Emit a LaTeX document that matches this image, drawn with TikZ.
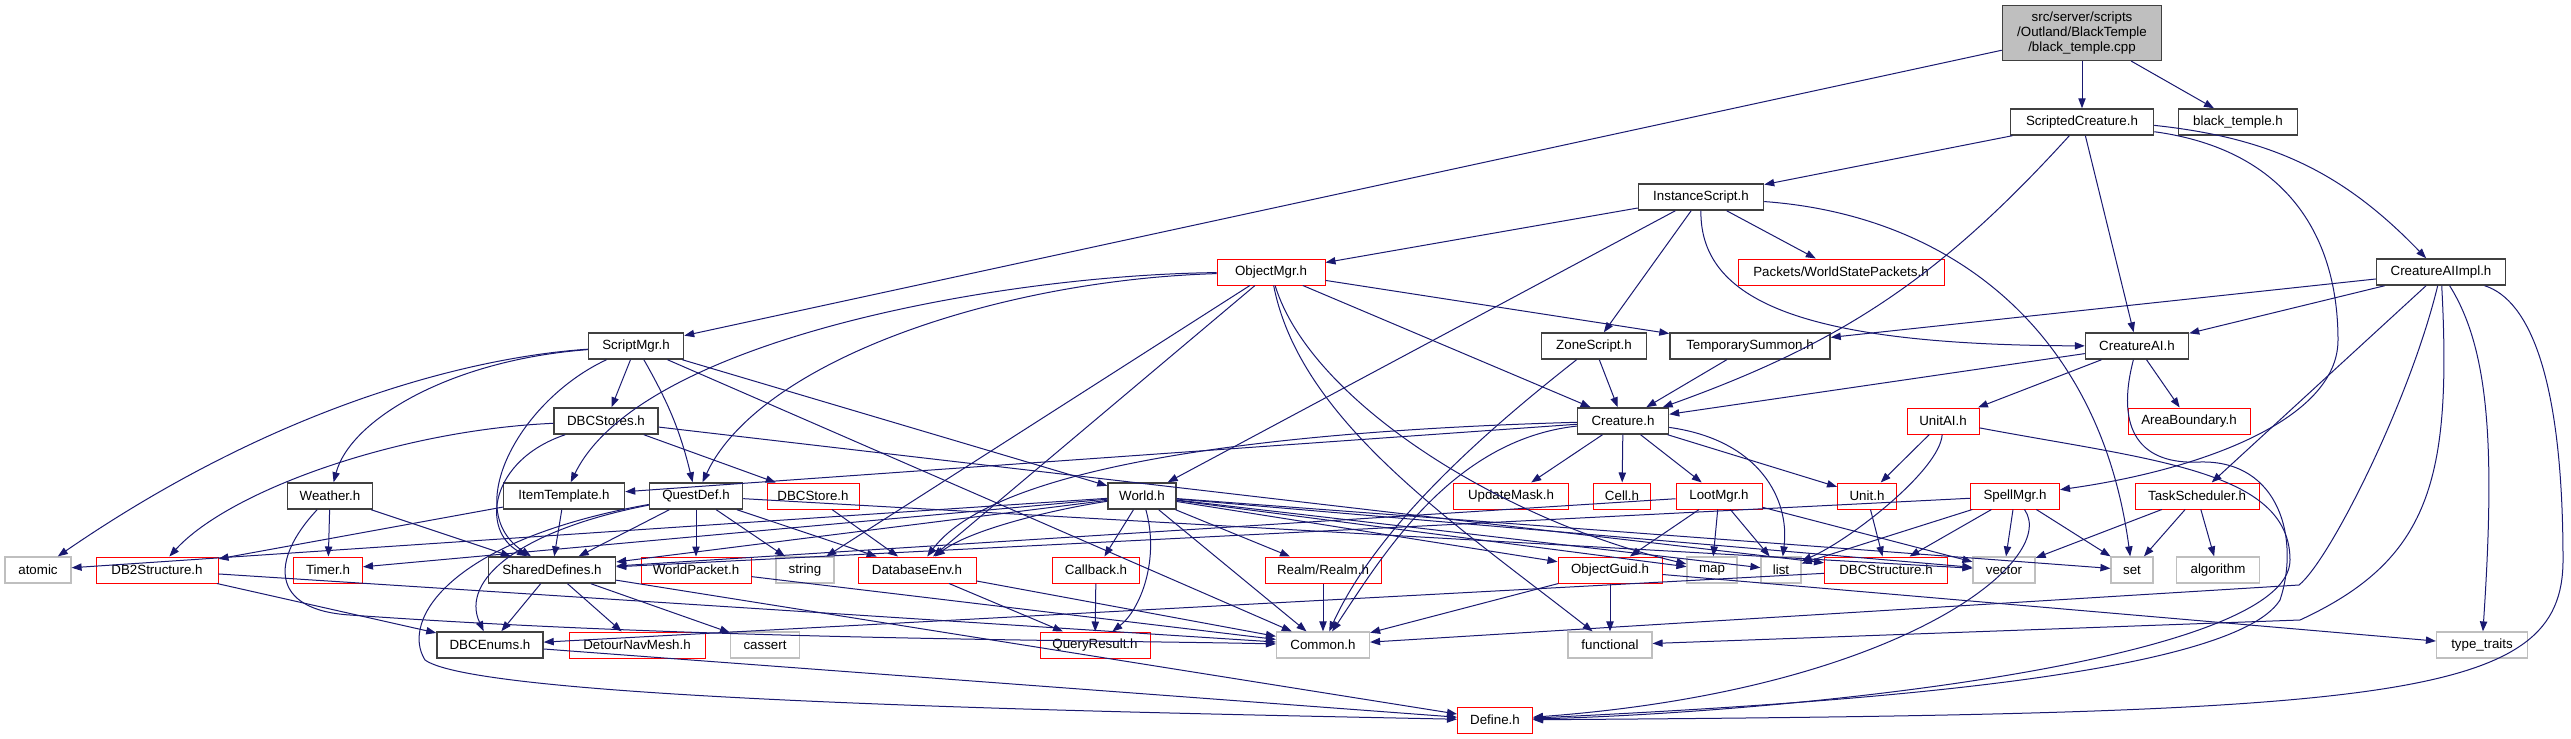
\documentclass[tikz,border=0pt]{standalone}
\usepackage{fontspec}
\setmainfont{Liberation Sans}
\usetikzlibrary{arrows.meta,positioning}
\definecolor{edgeblue}{RGB}{25,25,112}
\definecolor{boxred}{RGB}{255,0,0}
\definecolor{sysgray}{RGB}{191,191,191}
\definecolor{boxdark}{RGB}{64,64,64}

\begin{document}
\begin{tikzpicture}[
    x=0.75pt, y=-0.75pt,
    hdr/.style={draw, rectangle, fill=white, minimum height=19.5pt, inner xsep=2pt, inner ysep=0pt, font=\fontsize{10}{11.5}\selectfont},
    hdrdoc/.style={hdr, draw=boxdark, line width=1.1pt},
    hdrred/.style={hdr, draw=boxred, line width=0.75pt},
    hdrsys/.style={hdr, draw=sysgray, line width=0.9pt},
    wd/.style={minimum width=#1*0.75pt},
    incl/.style={draw=edgeblue, line width=0.75pt, -{Triangle[length=7.5pt,width=5.5pt]}},
]
\useasboundingbox (0,0) rectangle (2571,739);

% Root file
\node[hdr,fill=sysgray,draw=boxdark,line width=1.1pt,wd=159,minimum height=41pt,align=center] (cpp) at (2082,33) {src/server/scripts\\/Outland/BlackTemple\\/black\_temple.cpp};

% Direct includes
\node[hdrdoc,wd=143] (scriptedcreature) at (2082,122) {ScriptedCreature.h};
\node[hdrdoc,wd=119] (blacktempleh) at (2238,122) {black\_temple.h};
\node[hdrdoc,wd=125] (instancescript) at (1701,197) {InstanceScript.h};

\node[hdrred,wd=108] (objectmgr) at (1271,272) {ObjectMgr.h};
\node[hdrred,wd=206] (wspackets) at (1841,272) {Packets/WorldStatePackets.h};
\node[hdrdoc,wd=129] (aiimpl) at (2441,272) {CreatureAIImpl.h};

\node[hdrdoc,wd=95] (scriptmgr) at (636,346) {ScriptMgr.h};
\node[hdrdoc,wd=105] (zonescript) at (1594,346) {ZoneScript.h};
\node[hdrdoc,wd=160] (tempsummon) at (1750,346) {TemporarySummon.h};
\node[hdrdoc,wd=103] (creatureai) at (2137,346) {CreatureAI.h};

\node[hdrdoc,wd=104] (dbcstores) at (606,421) {DBCStores.h};
\node[hdrdoc,wd=91] (creature) at (1623,421) {Creature.h};
\node[hdrred,wd=72] (unitai) at (1943,421) {UnitAI.h};
\node[hdrred,wd=122] (areaboundary) at (2189,421) {AreaBoundary.h};

% Middle row
\node[hdrdoc,wd=85] (weather) at (330,496) {Weather.h};
\node[hdrdoc,wd=121] (itemtemplate) at (564,496) {ItemTemplate.h};
\node[hdrdoc,wd=93] (questdef) at (696,496) {QuestDef.h};
\node[hdrred,wd=92] (dbcstore) at (813,496) {DBCStore.h};
\node[hdrdoc,wd=68] (world) at (1142,496) {World.h};
\node[hdrred,wd=115] (updatemask) at (1511,496) {UpdateMask.h};
\node[hdrred,wd=57] (cell) at (1622,496) {Cell.h};
\node[hdrred,wd=86] (lootmgr) at (1719,496) {LootMgr.h};
\node[hdrred,wd=59] (unit) at (1867,496) {Unit.h};
\node[hdrred,wd=89] (spellmgr) at (2015,496) {SpellMgr.h};
\node[hdrred,wd=124] (taskscheduler) at (2197,496) {TaskScheduler.h};

% Lower rows
\node[hdrsys,wd=66] (atomic) at (38,570) {atomic};
\node[hdrred,wd=122] (db2structure) at (157,570) {DB2Structure.h};
\node[hdrred,wd=69] (timer) at (328,570) {Timer.h};
\node[hdrdoc,wd=127] (shareddefines) at (552,570) {SharedDefines.h};
\node[hdrred,wd=110] (worldpacket) at (696,570) {WorldPacket.h};
\node[hdrsys,wd=58] (string) at (805,570) {string};
\node[hdrred,wd=118] (databaseenv) at (917,570) {DatabaseEnv.h};
\node[hdrred,wd=87] (callback) at (1096,570) {Callback.h};
\node[hdrred,wd=116] (realm) at (1323,570) {Realm/Realm.h};
\node[hdrred,wd=104] (objectguid) at (1610,570) {ObjectGuid.h};
\node[hdrsys,wd=50] (map) at (1712,570) {map};
\node[hdrsys,wd=40] (list) at (1781,570) {list};
\node[hdrred,wd=123] (dbcstructure) at (1886,570) {DBCStructure.h};
\node[hdrsys,wd=62] (vector) at (2004,570) {vector};
\node[hdrsys,wd=42] (set) at (2132,570) {set};
\node[hdrsys,wd=83] (algorithm) at (2218,570) {algorithm};

\node[hdrdoc,wd=106] (dbcenums) at (490,645) {DBCEnums.h};
\node[hdrred,wd=136] (detour) at (637,645) {DetourNavMesh.h};
\node[hdrsys,wd=69] (cassert) at (765,645) {cassert};
\node[hdrred,wd=110] (queryresult) at (1095,645) {QueryResult.h};
\node[hdrsys,wd=93] (common) at (1323,645) {Common.h};
\node[hdrsys,wd=84] (functional) at (1610,645) {functional};
\node[hdrsys,wd=91] (typetraits) at (2482,645) {type\_traits};

\node[hdrred,wd=75] (define) at (1495,720) {Define.h};

% Straight includes
\foreach \t in {scriptmgr,scriptedcreature,blacktempleh}
    \draw[incl] (cpp) -- (\t);
\foreach \t in {instancescript,creatureai}
    \draw[incl] (scriptedcreature) -- (\t);
\foreach \t in {objectmgr,world,zonescript,wspackets}
    \draw[incl] (instancescript) -- (\t);
\foreach \t in {tempsummon,creature,databaseenv,string}
    \draw[incl] (objectmgr) -- (\t);
\foreach \t in {tempsummon,creatureai,taskscheduler}
    \draw[incl] (aiimpl) -- (\t);
\foreach \t in {creature,unitai,areaboundary}
    \draw[incl] (creatureai) -- (\t);
\foreach \t in {itemtemplate,updatemask,cell,lootmgr,unit}
    \draw[incl] (creature) -- (\t);
\foreach \t in {dbcstores,world,common}
    \draw[incl] (scriptmgr) -- (\t);
\foreach \t in {dbcstore,dbcstructure}
    \draw[incl] (dbcstores) -- (\t);
\foreach \t in {shareddefines,worldpacket,string,databaseenv,vector}
    \draw[incl] (questdef) -- (\t);
\foreach \t in {atomic,timer,shareddefines,callback,realm,objectguid,common,map,list,set,vector}
    \draw[incl] (world) -- (\t);
\foreach \t in {objectguid,map,list,vector,shareddefines}
    \draw[incl] (lootmgr) -- (\t);
\foreach \t in {shareddefines,list,dbcstructure,vector,set}
    \draw[incl] (spellmgr) -- (\t);
\foreach \t in {vector,set,algorithm}
    \draw[incl] (taskscheduler) -- (\t);
\foreach \t in {functional,typetraits,common}
    \draw[incl] (objectguid) -- (\t);
\foreach \t in {dbcenums,detour,cassert,define}
    \draw[incl] (shareddefines) -- (\t);
\foreach \s/\t in {zonescript/creature,tempsummon/creature,unitai/unit,unit/dbcstructure,
                   weather/timer,weather/shareddefines,itemtemplate/shareddefines,itemtemplate/db2structure,
                   dbcstore/databaseenv,databaseenv/queryresult,databaseenv/common,callback/queryresult,
                   realm/common,db2structure/dbcenums,db2structure/common,dbcenums/define,
                   worldpacket/common,dbcstructure/dbcenums}
    \draw[incl] (\s) -- (\t);

% Curved includes
\draw[incl] (scriptedcreature) to[bend left=14] (creature);
\draw[incl] (scriptedcreature) to[bend left=20] (aiimpl);
\draw[incl] (scriptedcreature) .. controls (2290,150) and (2338,240) .. (2338,340) .. controls (2338,420) and (2200,470) .. (spellmgr);
\draw[incl] (instancescript) .. controls (1700,300) and (1800,345) .. (creatureai);
\draw[incl] (instancescript) .. controls (1950,215) and (2100,330) .. (set);
\draw[incl] (objectmgr) .. controls (1000,275) and (640,340) .. (itemtemplate);
\draw[incl] (objectmgr) .. controls (1000,280) and (760,360) .. (questdef);
\draw[incl] (objectmgr) .. controls (1300,420) and (1450,520) .. (functional);
\draw[incl] (objectmgr) .. controls (1310,400) and (1500,520) .. (map);
\draw[incl] (zonescript) .. controls (1500,420) and (1380,520) .. (common);
\draw[incl] (creature) .. controls (1300,430) and (1000,460) .. (databaseenv);
\draw[incl] (creature) .. controls (1450,440) and (1380,560) .. (common);
\draw[incl] (creature) .. controls (1760,440) and (1790,500) .. (list);
\draw[incl] (creatureai) .. controls (2115,430) and (2140,465) .. (2200,462) .. controls (2280,460) and (2300,540) .. (2280,600) .. controls (2230,680) and (1800,705) .. (define);
\draw[incl] (unitai) .. controls (2150,460) and (2290,470) .. (2290,560) .. controls (2290,660) and (1800,712) .. (define);
\draw[incl] (unitai) .. controls (1940,470) and (1850,540) .. (list);
\draw[incl] (spellmgr) .. controls (2060,560) and (1900,690) .. (define);
\draw[incl] (aiimpl) .. controls (2410,400) and (2330,560) .. (2299,585) -- (common);
\draw[incl] (aiimpl) .. controls (2452,480) and (2430,560) .. (2300,620) -- (functional);
\draw[incl] (aiimpl) .. controls (2530,300) and (2563,380) .. (2563,560) .. controls (2563,700) and (2400,714) .. (define);
\draw[incl] (aiimpl) .. controls (2490,350) and (2495,450) .. (typetraits);
\draw[incl] (questdef) .. controls (520,530) and (460,580) .. (dbcenums);
\draw[incl] (questdef) .. controls (450,540) and (400,620) .. (425,660) .. controls (480,700) and (1100,712) .. (define);
\draw[incl] (weather) .. controls (270,560) and (270,610) .. (350,615) .. controls (700,640) and (1100,640) .. (common);
\draw[incl] (scriptmgr) .. controls (500,355) and (300,390) .. (atomic);
\draw[incl] (scriptmgr) .. controls (450,360) and (350,420) .. (weather);
\draw[incl] (scriptmgr) .. controls (520,400) and (460,510) .. (shareddefines);
\draw[incl] (scriptmgr) to[bend left=8] (questdef);
\draw[incl] (dbcstores) .. controls (400,430) and (230,490) .. (db2structure);
\draw[incl] (dbcstores) .. controls (490,460) and (480,530) .. (shareddefines);
\draw[incl] (world) .. controls (1050,510) and (970,530) .. (databaseenv);
\draw[incl] (world) .. controls (1160,560) and (1140,610) .. (queryresult);

\end{tikzpicture}
\end{document}
